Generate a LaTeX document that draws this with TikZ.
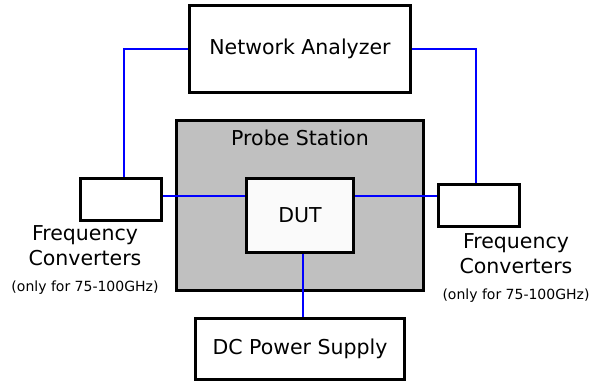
\documentclass[tikz,border=0pt]{standalone}
\usepackage{fontspec}
\setmainfont{DejaVu Sans}
\usetikzlibrary{backgrounds,calc}

\definecolor{stationgray}{HTML}{C0C0C0}
\definecolor{dutwhite}{HTML}{FAFAFA}
\definecolor{cableblue}{HTML}{0000FF}

\begin{document}
\begin{tikzpicture}[
  x=1pt, y=-1pt,
  box/.style={draw, line width=2.8pt, fill=white, inner sep=0pt},
  station box/.style={box, fill=stationgray},
  dut box/.style={box, fill=dutwhite},
  big text/.style={font=\fontsize{20.5}{25}\selectfont, align=center},
  label text/.style={big text, anchor=north, inner sep=0pt},
  note/.style={font=\fontsize{14}{17}\selectfont, anchor=base, inner sep=0pt},
  cable/.style={draw=cableblue, line width=2.4pt}
]
\useasboundingbox (0,0) rectangle (590,383);

% Column anchors for the centre column and the two converter columns.
\def\midX{300}
\def\leftX{121}
\def\rightX{479}

% -----------------------------------------------------------------------------
% Probe station with the device under test inside it.
% -----------------------------------------------------------------------------
\begin{scope}[on background layer]
  \node[station box, minimum width=247.2, minimum height=170.2] (station) at (\midX,205.5) {};
\end{scope}
\node[big text, anchor=base] (stationTitle) at (\midX,145) {Probe Station};
\node[dut box, big text, minimum width=107.2, minimum height=74.2] (dut) at (\midX,215.5) {DUT};

% -----------------------------------------------------------------------------
% Instruments above and below the station.
% -----------------------------------------------------------------------------
\node[box, big text, minimum width=221.2, minimum height=87.2] (analyzer) at (\midX,49) {Network Analyzer};
\node[box, big text, minimum width=209.2, minimum height=61.2] (supply) at (\midX,349) {DC Power Supply};

% -----------------------------------------------------------------------------
% Frequency converters on both sides, with their labels.
% -----------------------------------------------------------------------------
\node[box, minimum width=81.2, minimum height=42.2] (fcLeft) at (\leftX,199.2) {};
\node[label text] (fcLeftLabel) at (85,225.2) {Frequency\\Converters};
\node[note] (fcLeftNote) at (85,291) {(only for 75-100GHz)};

\node[box, minimum width=81.2, minimum height=42.2] (fcRight) at (\rightX,205.5) {};
\node[label text] (fcRightLabel) at (516,233.2) {Frequency\\Converters};
\node[note] (fcRightNote) at (516,299) {(only for 75-100GHz)};

% -----------------------------------------------------------------------------
% Cables. Kept on the background layer so they stop under the box borders.
% -----------------------------------------------------------------------------
\coordinate (fcLeftIn) at ($(fcLeft.north)+(3,0)$);
\coordinate (fcRightIn) at ($(fcRight.north)+(-3,0)$);
\coordinate (dutWestOut) at ($(dut.west)+(0,-19.5)$);
\coordinate (dutEastOut) at ($(dut.east)+(0,-19.5)$);
\coordinate (dutSouthOut) at ($(dut.south)+(3,0)$);

\begin{scope}[on background layer]
  \draw[cable] (analyzer.west) -| (fcLeftIn);
  \draw[cable] (analyzer.east) -| (fcRightIn);
  \draw[cable] (dutWestOut) -- (dutWestOut -| fcLeft.east);
  \draw[cable] (dutEastOut) -- (dutEastOut -| fcRight.west);
  \draw[cable] (dutSouthOut) -- (dutSouthOut |- supply.north);
\end{scope}

\end{tikzpicture}
\end{document}
